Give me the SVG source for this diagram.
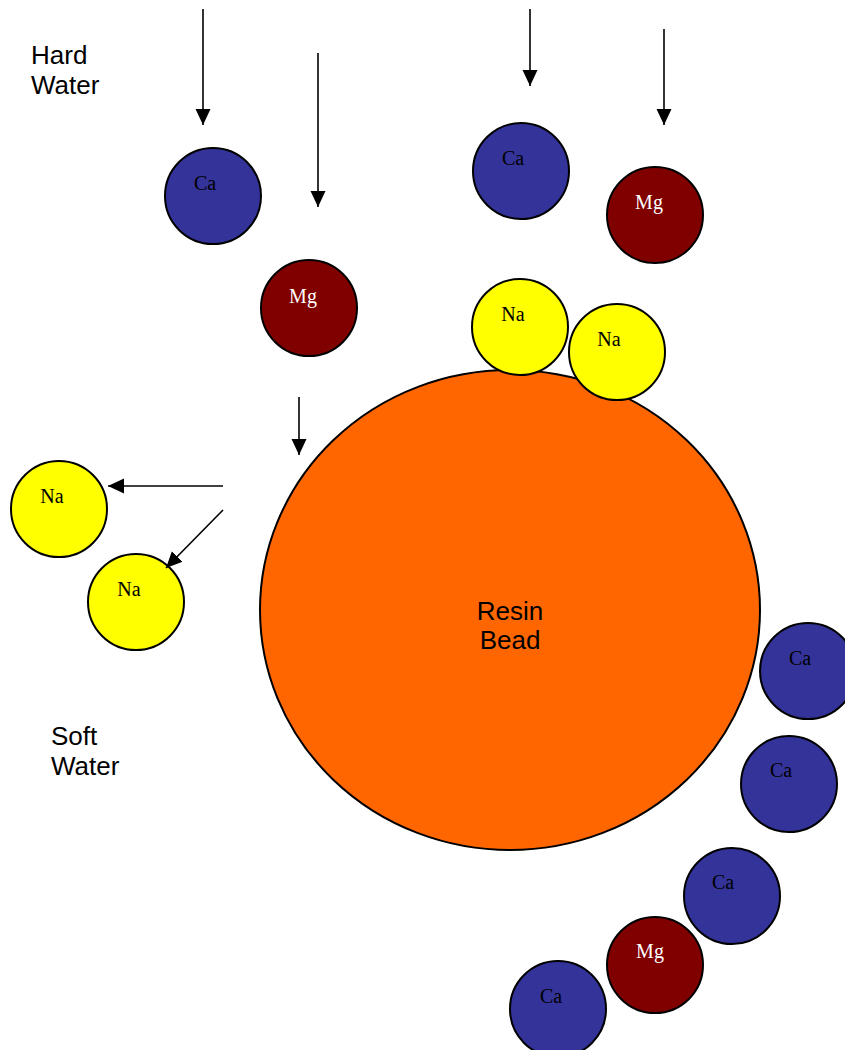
<svg xmlns="http://www.w3.org/2000/svg" width="845" height="1050" viewBox="0 0 845 1050">
<style>
.ion{stroke:#000;stroke-width:2}
.ca{fill:#333399}
.mg{fill:#800000}
.na{fill:#FFFF00}
.bead{fill:#FF6600;stroke:#000;stroke-width:2}
.it{font-family:"Liberation Serif","Times New Roman",serif;font-size:20px;text-anchor:middle;fill:#000}
.mgt{fill:#fff}
.lbl{font-family:"Liberation Sans",Arial,sans-serif;font-size:26px;fill:#000}
.arr{stroke:#000;stroke-width:1.6;fill:none;marker-end:url(#ah)}
</style>
<defs>
<marker id="ah" markerUnits="userSpaceOnUse" markerWidth="16" markerHeight="16" refX="16" refY="7.5" orient="auto" viewBox="0 0 16 15">
<path d="M0,0 L16,7.5 L0,15 z" fill="#000"/>
</marker>
</defs>
<rect width="845" height="1050" fill="#fff"/>
<g id="label-hard-water"><text class="lbl" x="31" y="64">Hard</text><text class="lbl" x="31" y="94">Water</text></g>
<g id="label-soft-water"><text class="lbl" x="51" y="745">Soft</text><text class="lbl" x="51" y="775">Water</text></g>
<g id="resin-bead"><ellipse class="bead" cx="510" cy="610" rx="250" ry="240"/><text class="lbl" x="510" y="620" text-anchor="middle">Resin</text><text class="lbl" x="510" y="649" text-anchor="middle">Bead</text></g>
<g id="ca-top-left"><circle class="ion ca" cx="213" cy="196" r="48"/><text class="it" x="205" y="190">Ca</text></g>
<g id="mg-top-left"><circle class="ion mg" cx="309" cy="308" r="48"/><text class="it mgt" x="303" y="303">Mg</text></g>
<g id="ca-top-right"><circle class="ion ca" cx="521" cy="171" r="48"/><text class="it" x="513" y="165">Ca</text></g>
<g id="mg-top-right"><circle class="ion mg" cx="655" cy="215" r="48"/><text class="it mgt" x="649" y="209">Mg</text></g>
<g id="na-bound-1"><circle class="ion na" cx="520" cy="327" r="48"/><text class="it" x="513" y="321">Na</text></g>
<g id="na-bound-2"><circle class="ion na" cx="617" cy="352" r="48"/><text class="it" x="609" y="346">Na</text></g>
<g id="na-free-1"><circle class="ion na" cx="59" cy="509" r="48"/><text class="it" x="52" y="503">Na</text></g>
<g id="na-free-2"><circle class="ion na" cx="136" cy="602" r="48"/><text class="it" x="129" y="596">Na</text></g>
<g id="ca-bound-1"><circle class="ion ca" cx="808" cy="671" r="48"/><text class="it" x="800" y="665">Ca</text></g>
<g id="ca-bound-2"><circle class="ion ca" cx="789" cy="784" r="48"/><text class="it" x="781" y="777">Ca</text></g>
<g id="ca-bound-3"><circle class="ion ca" cx="732" cy="896" r="48"/><text class="it" x="723" y="889">Ca</text></g>
<g id="mg-bound"><circle class="ion mg" cx="655" cy="965" r="48"/><text class="it mgt" x="650" y="958">Mg</text></g>
<g id="ca-bound-4"><circle class="ion ca" cx="558" cy="1009" r="48"/><text class="it" x="551" y="1003">Ca</text></g>
<g id="connectors">
<line class="arr" x1="203" y1="9" x2="203" y2="125"/>
<line class="arr" x1="318" y1="53" x2="318" y2="207"/>
<line class="arr" x1="530" y1="9" x2="530" y2="86"/>
<line class="arr" x1="664" y1="29" x2="664" y2="125"/>
<line class="arr" x1="299" y1="397" x2="299" y2="455"/>
<line class="arr" x1="223" y1="486" x2="108" y2="486"/>
<line class="arr" x1="223" y1="510" x2="166" y2="568"/>
</g>
</svg>
